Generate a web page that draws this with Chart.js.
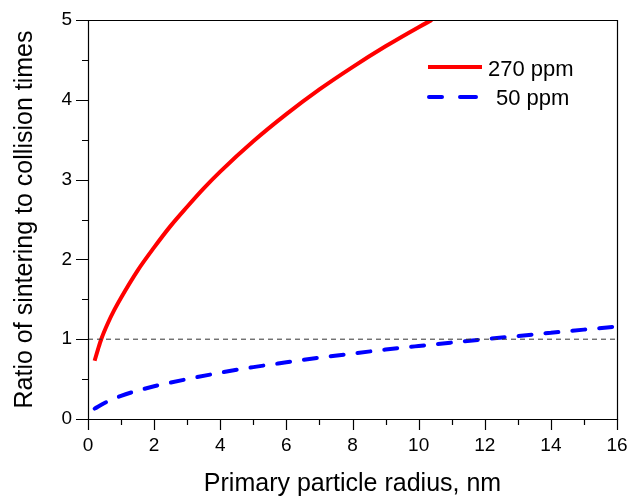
<!DOCTYPE html>
<html><head><meta charset="utf-8">
<script src="https://cdn.jsdelivr.net/npm/chart.js@4/dist/chart.umd.min.js"></script>
<style>html,body{margin:0;padding:0;background:#fff;}#wrap{width:630px;height:497px;}</style>
</head><body><div id="wrap"><canvas id="c" width="630" height="497"></canvas></div>
<script>
const xTitle = "Primary particle radius, nm";
const yTitle = "Ratio of sintering to collision times";
const seriesNames = ["270 ppm", "50 ppm"];
const redX = [0.2, 0.3, 0.4, 0.6, 0.8, 1.0, 1.5, 2.0, 2.5, 3.0, 3.5, 4.0, 5.0, 6.0, 7.0, 8.0, 9.0, 10.0, 10.4];
const redY = [0.73, 0.87, 1.0, 1.2, 1.37, 1.52, 1.86, 2.15, 2.42, 2.66, 2.89, 3.10, 3.48, 3.82, 4.13, 4.41, 4.67, 4.91, 5.0];
const blueX = [0.2, 0.5, 1.0, 1.5, 2, 3, 4, 5, 6, 7, 8, 9, 10, 11, 12, 13, 14, 15, 16];
const blueY = [0.13, 0.2, 0.29, 0.355, 0.41, 0.5, 0.58, 0.65, 0.71, 0.768, 0.82, 0.87, 0.915, 0.958, 1.0, 1.04, 1.08, 1.12, 1.158];
const refX = [0, 16];
const refY = [1, 1];
const xTicksMajor = [0, 2, 4, 6, 8, 10, 12, 14, 16];
const yTicksMajor = [0, 1, 2, 3, 4, 5];

const pts = (xs, ys) => xs.map((x, i) => ({x: x, y: ys[i]}));
const FONT = "'Liberation Sans', Arial, sans-serif";

const framePlugin = {
  id: 'frame',
  afterDraw(chart) {
    const ctx = chart.ctx, a = chart.chartArea;
    const xs = chart.scales.x, ys = chart.scales.y;
    ctx.save();
    ctx.strokeStyle = '#000';
    ctx.lineWidth = 1.2;
    ctx.beginPath();
    ctx.rect(Math.round(a.left) + 0.5, Math.round(a.top) + 0.5, Math.round(a.right - a.left), Math.round(a.bottom - a.top));
    ctx.stroke();
    ctx.beginPath();
    const xmin = xTicksMajor[0], xmax = xTicksMajor[xTicksMajor.length - 1];
    for (let v = xmin; v <= xmax + 1e-9; v += 1) {
      const px = Math.round(xs.getPixelForValue(v)) + 0.5;
      const len = (v % 2 === 0) ? 11 : 6;
      ctx.moveTo(px, a.bottom); ctx.lineTo(px, a.bottom + len);
    }
    for (let v = 0; v <= 5 + 1e-9; v += 0.5) {
      const py = Math.round(ys.getPixelForValue(v)) + 0.5;
      const len = (Math.abs(v - Math.round(v)) < 1e-9) ? 12 : 6;
      ctx.moveTo(a.left, py); ctx.lineTo(a.left - len, py);
    }
    ctx.stroke();
    // legend
    ctx.lineWidth = 4;
    ctx.strokeStyle = '#ff0000';
    ctx.beginPath(); ctx.moveTo(428, 67); ctx.lineTo(482, 67); ctx.stroke();
    ctx.strokeStyle = '#0000ff';
    ctx.lineCap = 'round';
    ctx.beginPath(); ctx.moveTo(429, 97); ctx.lineTo(442, 97); ctx.moveTo(460, 97); ctx.lineTo(476, 97); ctx.stroke();
    ctx.fillStyle = '#000';
    ctx.font = "22px " + FONT;
    ctx.textBaseline = 'alphabetic';
    ctx.textAlign = 'left';
    ctx.fillText(seriesNames[0], 488, 76);
    ctx.fillText(seriesNames[1], 496, 105);
    ctx.restore();
  }
};

function zeroPad(s) { s.paddingLeft = 0; s.paddingRight = 0; s.paddingTop = 0; s.paddingBottom = 0; }

new Chart(document.getElementById('c'), {
  type: 'line',
  data: {
    datasets: [
      {label: 'ref', data: pts(refX, refY), borderColor: '#333', borderWidth: 1, borderDash: [5, 4], pointRadius: 0, fill: false},
      {label: seriesNames[1], data: pts(blueX, blueY), borderColor: '#0000ff', borderWidth: 4, borderDash: [13, 14], borderCapStyle: 'round', pointRadius: 0, cubicInterpolationMode: 'monotone', fill: false},
      {label: seriesNames[0], data: pts(redX, redY), borderColor: '#ff0000', borderWidth: 4, pointRadius: 0, cubicInterpolationMode: 'monotone', fill: false}
    ]
  },
  options: {
    responsive: false,
    animation: false,
    layout: {padding: {top: 20, right: 13, left: 0, bottom: 0}},
    plugins: {legend: {display: false}, tooltip: {enabled: false}},
    scales: {
      x: {
        type: 'linear', min: 0, max: 16,
        afterFit(s) { s.height = 78; zeroPad(s); },
        afterBuildTicks(s) { s.ticks = xTicksMajor.map(v => ({value: v})); },
        grid: {display: false, drawTicks: false},
        border: {display: false},
        ticks: {color: '#000', font: {family: FONT, size: 19}, padding: 15, maxRotation: 0, autoSkip: false},
        title: {display: true, text: xTitle, color: '#000', font: {family: FONT, size: 25, lineHeight: 1}, padding: {top: 0, bottom: 0}}
      },
      y: {
        type: 'linear', min: 0, max: 5,
        afterFit(s) { s.width = 88; zeroPad(s); },
        afterBuildTicks(s) { s.ticks = yTicksMajor.map(v => ({value: v})); },
        grid: {display: false, drawTicks: false},
        border: {display: false},
        ticks: {color: '#000', font: {family: FONT, size: 19}, padding: 16, autoSkip: false},
        title: {display: true, text: yTitle, color: '#000', font: {family: FONT, size: 25, lineHeight: 1}, padding: {top: 13, bottom: 0}}
      }
    }
  },
  plugins: [framePlugin]
});
</script>
</body></html>
